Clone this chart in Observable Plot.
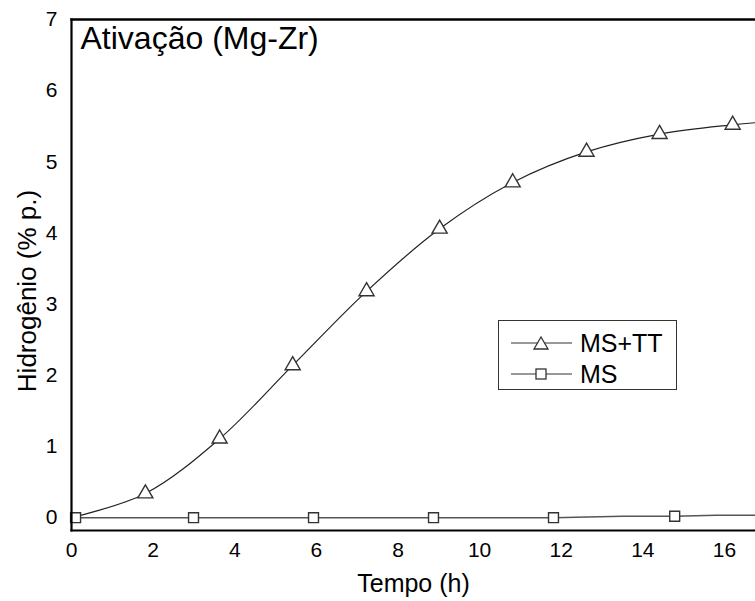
<!DOCTYPE html>
<html>
<head>
<meta charset="utf-8">
<script src="https://cdn.jsdelivr.net/npm/d3@7"></script>
<script src="https://cdn.jsdelivr.net/npm/@observablehq/plot@0.6"></script>
<style>
  html, body { margin: 0; padding: 0; background: #fff; overflow: hidden; }
  #wrap { position: relative; width: 755px; height: 601px; font-family: "Liberation Sans", Arial, sans-serif; }
  #legend { position: absolute; left: 498px; top: 320px; width: 177px; height: 68px; border: 1.5px solid #333; background: #fff; }
  .row { position: absolute; left: 0; height: 30px; display: flex; align-items: center; }
  .row svg { margin-left: 12px; }
  .row span { font-size: 25px; margin-left: 8px; color: #000; }
</style>
</head>
<body>
<div id="wrap"></div>
<script>
// MS+TT series (triangles)
const ttTime  = [0, 1.81, 3.63, 5.42, 7.23, 9.02, 10.81, 12.62, 14.41, 16.2, 16.76];
const ttValue = [0, 0.34, 1.11, 2.14, 3.18, 4.06, 4.71, 5.14, 5.39, 5.52, 5.55];
const ttMarker = [false, true, true, true, true, true, true, true, true, true, false];
// MS series (squares)
const msTime  = [0.1, 2.99, 5.93, 8.87, 11.81, 13.5, 14.78, 15.8, 16.76];
const msValue = [0, 0, 0, 0, 0, 0.02, 0.02, 0.035, 0.035];
const msMarker = [true, true, true, true, true, false, true, false, false];
const xTicks = [0, 2, 4, 6, 8, 10, 12, 14, 16];
const yTicks = [0, 1, 2, 3, 4, 5, 6, 7];
const titleText = "Ativação (Mg-Zr)";
const xLabel = "Tempo (h)";
const yLabel = "Hidrogênio (% p.)";
const seriesNames = ["MS+TT", "MS"];

const tt = ttTime.map((t, i) => ({t, v: ttValue[i], m: ttMarker[i]}));
const ms = msTime.map((t, i) => ({t, v: msValue[i], m: msMarker[i]}));

const chart = Plot.plot({
  width: 755,
  height: 601,
  marginLeft: 71,
  marginRight: 0,
  marginTop: 19,
  marginBottom: 71,
  style: {fontFamily: "'Liberation Sans', Arial, sans-serif", background: "#fff", color: "#000"},
  x: {domain: [0, 16.76], ticks: xTicks, tickSize: 0, tickPadding: 12, label: null, tickFormat: d => String(d)},
  y: {domain: [-0.18, 7], ticks: yTicks, tickSize: 0, tickPadding: 14, label: null, tickFormat: d => String(d)},
  marks: [
    Plot.axisX({ticks: xTicks, tickSize: 0, tickPadding: 12, fontSize: 21, label: null}),
    Plot.axisY({ticks: yTicks, tickSize: 0, tickPadding: 14, fontSize: 21, label: null}),
    Plot.line(ms, {x: "t", y: "v", stroke: "#555", strokeWidth: 1.6}),
    Plot.line(tt, {x: "t", y: "v", stroke: "#222", strokeWidth: 1.2, curve: "catmull-rom"}),
    Plot.dot(ms.filter(d => d.m), {x: "t", y: "v", symbol: "square", r: 5.6, fill: "#fff", stroke: "#333", strokeWidth: 1.4}),
    Plot.dot(tt.filter(d => d.m), {x: "t", y: "v", symbol: "triangle", r: 5.6, fill: "#fff", stroke: "#333", strokeWidth: 1.4}),
    Plot.frame({anchor: "left", stroke: "#000", strokeWidth: 2.2}),
    Plot.frame({anchor: "top", stroke: "#000", strokeWidth: 2.6}),
    Plot.frame({anchor: "bottom", stroke: "#000", strokeWidth: 2.2}),
    Plot.text([titleText], {frameAnchor: "top-left", dx: 9, dy: 7, textAnchor: "start", lineAnchor: "top", fontSize: 32, fill: "#000"}),
    Plot.text([xLabel], {frameAnchor: "bottom", dy: 53, textAnchor: "middle", lineAnchor: "middle", fontSize: 25, fill: "#000"}),
    Plot.text([yLabel], {frameAnchor: "left", dx: -44, dy: 16, rotate: -90, textAnchor: "middle", lineAnchor: "middle", fontSize: 26, fill: "#000"})
  ]
});
const wrap = document.getElementById("wrap");
wrap.appendChild(chart);

// legend
const legend = document.createElement("div");
legend.id = "legend";
const symbols = [
  '<polygon points="30,7 23,19 37,19" fill="#fff" stroke="#333" stroke-width="1.3"/>',
  '<rect x="25" y="8" width="10" height="10" fill="#fff" stroke="#333" stroke-width="1.3"/>'
];
seriesNames.forEach((name, i) => {
  const row = document.createElement("div");
  row.className = "row";
  row.style.top = (7 + i * 31) + "px";
  row.innerHTML = `<svg width="61" height="26"><line x1="0" x2="61" y1="13" y2="13" stroke="#333" stroke-width="1.2"/>${symbols[i]}</svg><span>${name}</span>`;
  legend.appendChild(row);
});
wrap.appendChild(legend);
</script>
</body>
</html>
